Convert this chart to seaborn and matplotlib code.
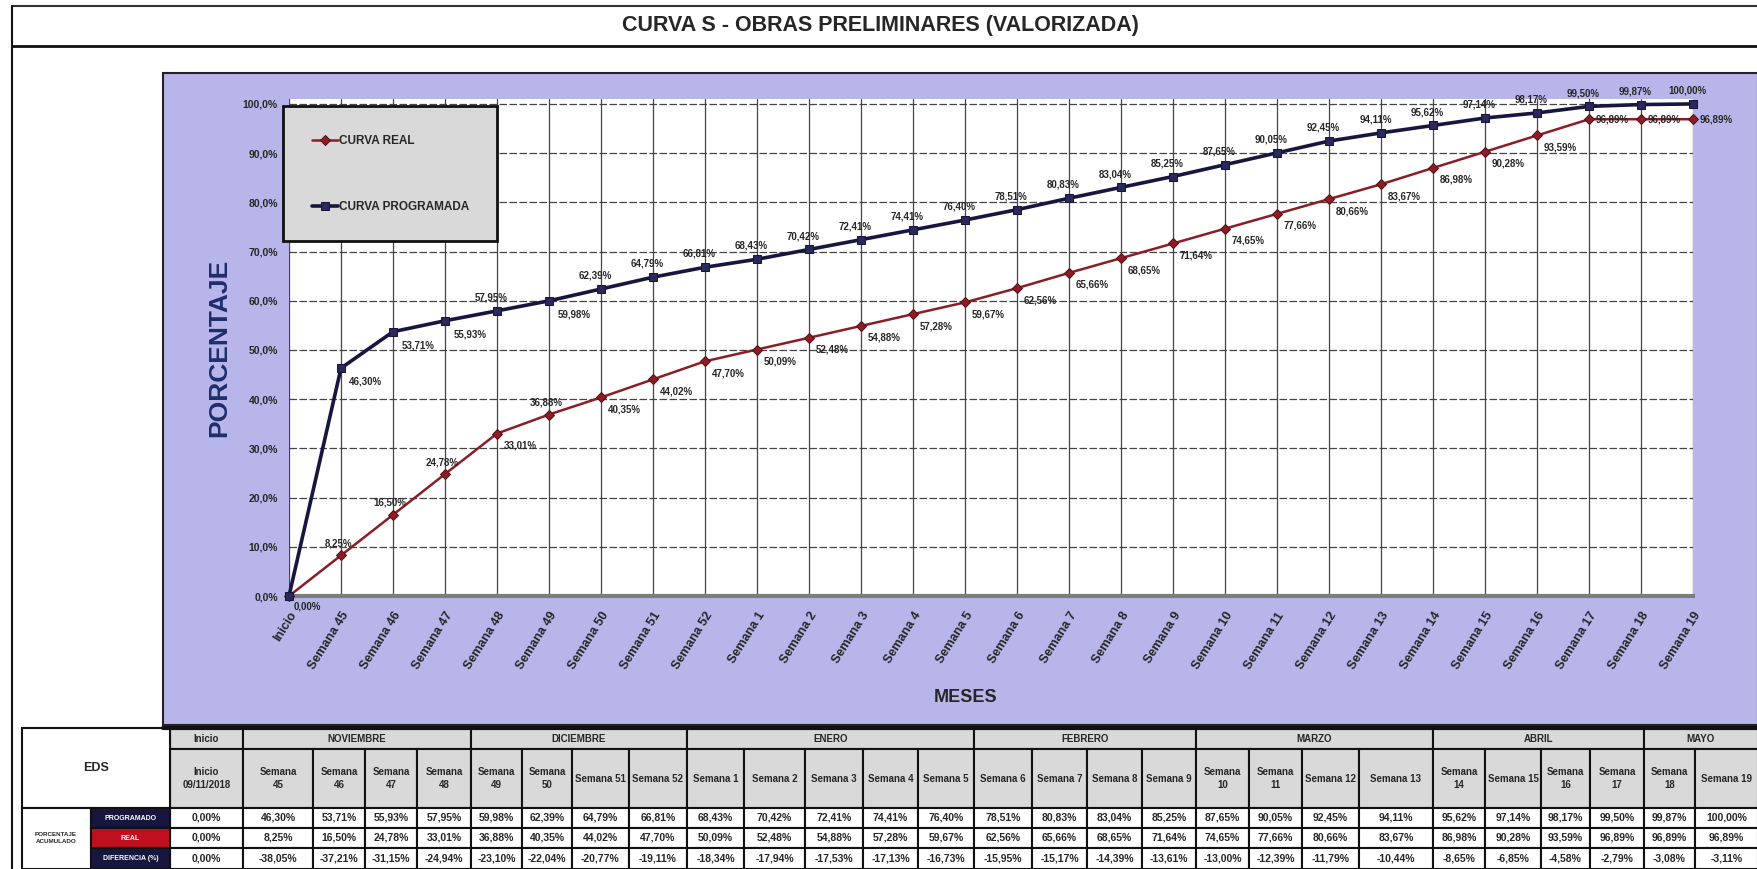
import matplotlib
matplotlib.use("Agg")
import matplotlib.pyplot as plt
import matplotlib.patches as mpatches
import pandas as pd
import seaborn as sns

# ---- data -------------------------------------------------------------
semanas = ["Inicio", "Semana 45", "Semana 46", "Semana 47", "Semana 48",
           "Semana 49", "Semana 50", "Semana 51", "Semana 52",
           "Semana 1", "Semana 2", "Semana 3", "Semana 4", "Semana 5",
           "Semana 6", "Semana 7", "Semana 8", "Semana 9",
           "Semana 10", "Semana 11", "Semana 12", "Semana 13",
           "Semana 14", "Semana 15", "Semana 16", "Semana 17",
           "Semana 18", "Semana 19"]

programado = [0.00, 46.30, 53.71, 55.93, 57.95, 59.98, 62.39, 64.79, 66.81,
              68.43, 70.42, 72.41, 74.41, 76.40, 78.51, 80.83, 83.04, 85.25,
              87.65, 90.05, 92.45, 94.11, 95.62, 97.14, 98.17, 99.50, 99.87,
              100.00]

real = [0.00, 8.25, 16.50, 24.78, 33.01, 36.88, 40.35, 44.02, 47.70,
        50.09, 52.48, 54.88, 57.28, 59.67, 62.56, 65.66, 68.65, 71.64,
        74.65, 77.66, 80.66, 83.67, 86.98, 90.28, 93.59, 96.89, 96.89,
        96.89]

diferencia = [0.00, -38.05, -37.21, -31.15, -24.94, -23.10, -22.04, -20.77,
              -19.11, -18.34, -17.94, -17.53, -17.13, -16.73, -15.95, -15.17,
              -14.39, -13.61, -13.00, -12.39, -11.79, -10.44, -8.65, -6.85,
              -4.58, -2.79, -3.08, -3.11]

meses = ["Inicio", "NOVIEMBRE", "DICIEMBRE", "ENERO", "FEBRERO", "MARZO",
         "ABRIL", "MAYO"]
semanas_por_mes = [1, 4, 4, 5, 4, 4, 4, 2]

cabecera_tabla = ["Inicio\n09/11/2018", "Semana\n45", "Semana\n46", "Semana\n47",
                  "Semana\n48", "Semana\n49", "Semana\n50", "Semana 51",
                  "Semana 52", "Semana 1", "Semana 2", "Semana 3", "Semana 4",
                  "Semana 5", "Semana 6", "Semana 7", "Semana 8", "Semana 9",
                  "Semana\n10", "Semana\n11", "Semana 12", "Semana 13",
                  "Semana\n14", "Semana 15", "Semana\n16", "Semana\n17",
                  "Semana\n18", "Semana 19"]

# ---- layout (pixels) --------------------------------------------------
W, H = 1758, 869
col_edges = [170, 243, 313, 365, 417, 471, 522, 572, 629, 687, 744, 805, 863,
             918, 974, 1032, 1087, 1142, 1196, 1249, 1302, 1359, 1433, 1485,
             1541, 1590, 1644, 1695, 1758]
row_edges = [728, 749, 808, 828, 848, 869]

NAVY = "#16163f"
MAROON = "#8a1d26"
LAVENDER = "#b7b5ea"
HEAD_GRAY = "#d9d9d9"


def pct(v):
    return "{:.2f}%".format(v).replace(".", ",")


sns.set_theme(style="white")
plt.rcParams["font.family"] = ["Liberation Sans Narrow", "Liberation Sans", "DejaVu Sans"]

fig = plt.figure(figsize=(W / 100, H / 100), dpi=100)
fig.patch.set_facecolor("white")

# background canvas in pixel coordinates
bg = fig.add_axes([0, 0, 1, 1])
bg.set_xlim(0, W)
bg.set_ylim(H, 0)
bg.axis("off")

# title bar and outer frame
bg.plot([12, W], [6, 6], color="#333", lw=1.5)
bg.plot([12, W], [46, 46], color="#111", lw=2)
bg.plot([12, 12], [6, H], color="#111", lw=1.5)
bg.text(880, 25, "CURVA S - OBRAS PRELIMINARES (VALORIZADA)", ha="center",
        va="center", fontsize=15.5, fontweight="bold")

# lavender chart panel
bg.add_patch(mpatches.Rectangle((163, 73), W - 163, 652, facecolor=LAVENDER,
                                edgecolor="#222", lw=1.5))

# ---- chart ------------------------------------------------------------
ax_left, ax_right = 289, 1693
y0_px, ytop_px = 596, 99
ax = fig.add_axes([ax_left / W, (H - y0_px) / H, (ax_right - ax_left) / W,
                   (y0_px - ytop_px) / H])
ax.set_facecolor("white")

df = pd.DataFrame({"pos": range(len(semanas)), "semana": semanas,
                   "programado": programado, "real": real})

sns.lineplot(data=df, x="pos", y="real", ax=ax, color=MAROON, lw=1.8,
             marker="D", markersize=5, markeredgecolor="#5a0f16",
             markerfacecolor=MAROON, label="CURVA REAL", clip_on=False, zorder=4)
sns.lineplot(data=df, x="pos", y="programado", ax=ax, color=NAVY, lw=2.6,
             marker="s", markersize=5.5, markeredgecolor=NAVY,
             markerfacecolor="#2a2a5a", label="CURVA PROGRAMADA",
             clip_on=False, zorder=5)

ax.set_xlim(0, len(semanas) - 1)
ax.set_ylim(0, 101)
ax.set_xticks(range(len(semanas)))
ax.set_xticklabels(semanas, rotation=58, ha="right", va="top",
                   rotation_mode="anchor", fontsize=9, fontweight="heavy")
ax.set_yticks(range(0, 101, 10))
ax.set_yticklabels(["{:.1f}%".format(v).replace(".", ",") for v in range(0, 101, 10)],
                   fontsize=7.5, fontweight="bold")
ax.tick_params(axis="x", length=3, pad=7, color="#555")
ax.tick_params(axis="y", length=0, pad=8)
ax.set_xlabel("")
ax.set_ylabel("")

ax.xaxis.grid(True, color="#444", lw=0.9, ls="-")
ax.yaxis.grid(True, color="#444", lw=0.9, ls=(0, (6, 2)))
ax.set_axisbelow(True)
for side in ["top", "right", "left"]:
    ax.spines[side].set_visible(False)
ax.spines["bottom"].set_color("#7d7d7d")
ax.spines["bottom"].set_linewidth(3)

# point labels
prog_below = {1, 2, 3, 5}
for i, v in enumerate(programado):
    if i == 0:
        continue
    if i in prog_below:
        off, va = (6, -6), "top"
    else:
        off, va = (-4, 6), "bottom"
    ax.annotate(pct(v), (i, v), xytext=off, textcoords="offset points",
                ha="left" if i in prog_below else "center", va=va,
                fontsize=7, fontweight="bold", annotation_clip=False, zorder=6)

real_above = {1, 2, 3, 5}
real_inline = {25, 26, 27}
for i, v in enumerate(real):
    if i == 0:
        ax.annotate(pct(v), (i, v), xytext=(3, -4), textcoords="offset points",
                    ha="left", va="top", fontsize=7, fontweight="bold",
                    annotation_clip=False)
        continue
    if i in real_above:
        off, va, ha = (-2, 5), "bottom", "center"
    elif i in real_inline:
        off, va, ha = (5, 0), "center", "left"
    else:
        off, va, ha = (5, -5), "top", "left"
    ax.annotate(pct(v), (i, v), xytext=off, textcoords="offset points",
                ha=ha, va=va, fontsize=7, fontweight="bold",
                annotation_clip=False, zorder=6)

leg = ax.legend(loc="upper left", bbox_to_anchor=(-0.004, 0.985),
                borderaxespad=0, frameon=True, fancybox=False,
                labelspacing=4.6, borderpad=2.4, handlelength=2.2,
                handletextpad=0.1, prop={"weight": "bold", "size": 8.5})
leg.get_frame().set_facecolor(HEAD_GRAY)
leg.get_frame().set_edgecolor("#111")
leg.get_frame().set_linewidth(2)
leg.get_frame().set_alpha(1)
leg.set_zorder(10)

fig.text(219 / W, 1 - 348 / H, "PORCENTAJE", rotation=90, ha="center",
         va="center", fontsize=19, fontweight="bold", color="#1f2d6b",
         family=["Liberation Sans", "DejaVu Sans"])
fig.text(966 / W, 1 - 697 / H, "MESES", ha="center", va="center",
         fontsize=13, fontweight="bold")

# ---- table ------------------------------------------------------------
bg.plot([163, W], [row_edges[0], row_edges[0]], color="#111", lw=3)

# month row
c = 0
for mes, n in zip(meses, semanas_por_mes):
    x0, x1 = col_edges[c], col_edges[c + n]
    bg.add_patch(mpatches.Rectangle((x0, row_edges[0]), x1 - x0,
                                    row_edges[1] - row_edges[0],
                                    facecolor=HEAD_GRAY, edgecolor="#111", lw=1.5))
    bg.text((x0 + x1) / 2, (row_edges[0] + row_edges[1]) / 2, mes,
            ha="center", va="center", fontsize=7, fontweight="bold")
    c += n

for j in range(len(semanas)):
    x0, x1 = col_edges[j], col_edges[j + 1]
    xm = (x0 + x1) / 2
    bg.add_patch(mpatches.Rectangle((x0, row_edges[1]), x1 - x0,
                                    row_edges[2] - row_edges[1],
                                    facecolor=HEAD_GRAY, edgecolor="#111", lw=1.5))
    bg.text(xm, (row_edges[1] + row_edges[2]) / 2, cabecera_tabla[j],
            ha="center", va="center", fontsize=7, fontweight="bold",
            linespacing=1.3)
    for r, serie in enumerate([programado, real, diferencia]):
        y0, y1 = row_edges[2 + r], row_edges[3 + r]
        bg.add_patch(mpatches.Rectangle((x0, y0), x1 - x0, y1 - y0,
                                        facecolor="white", edgecolor="#111", lw=1.5))
        bg.text(xm, (y0 + y1) / 2, pct(serie[j]), ha="center", va="center",
                fontsize=7.5, fontweight="bold")

# left label cells
bg.add_patch(mpatches.Rectangle((22, row_edges[0]), col_edges[0] - 22,
                                row_edges[2] - row_edges[0], facecolor="white",
                                edgecolor="#111", lw=1.5))
bg.text(96, 768, "EDS", ha="center", va="center", fontsize=9, fontweight="bold")
bg.add_patch(mpatches.Rectangle((22, row_edges[2]), 69, row_edges[5] - row_edges[2],
                                facecolor="white", edgecolor="#111", lw=1.5))
bg.text(56, 838, "PORCENTAJE\nACUMULADO", ha="center", va="center",
        fontsize=4.5, fontweight="bold", linespacing=1.4)
row_labels = ["PROGRAMADO", "REAL", "DIFERENCIA (%)"]
row_colors = [NAVY, "#c01020", NAVY]
for r, (lab, col) in enumerate(zip(row_labels, row_colors)):
    y0, y1 = row_edges[2 + r], row_edges[3 + r]
    bg.add_patch(mpatches.Rectangle((91, y0), col_edges[0] - 91, y1 - y0,
                                    facecolor=col, edgecolor="#111", lw=1.5))
    bg.text((91 + col_edges[0]) / 2, (y0 + y1) / 2, lab, ha="center",
            va="center", fontsize=5, fontweight="bold", color="white")

plt.savefig("out.png", dpi=100)
plt.close()
